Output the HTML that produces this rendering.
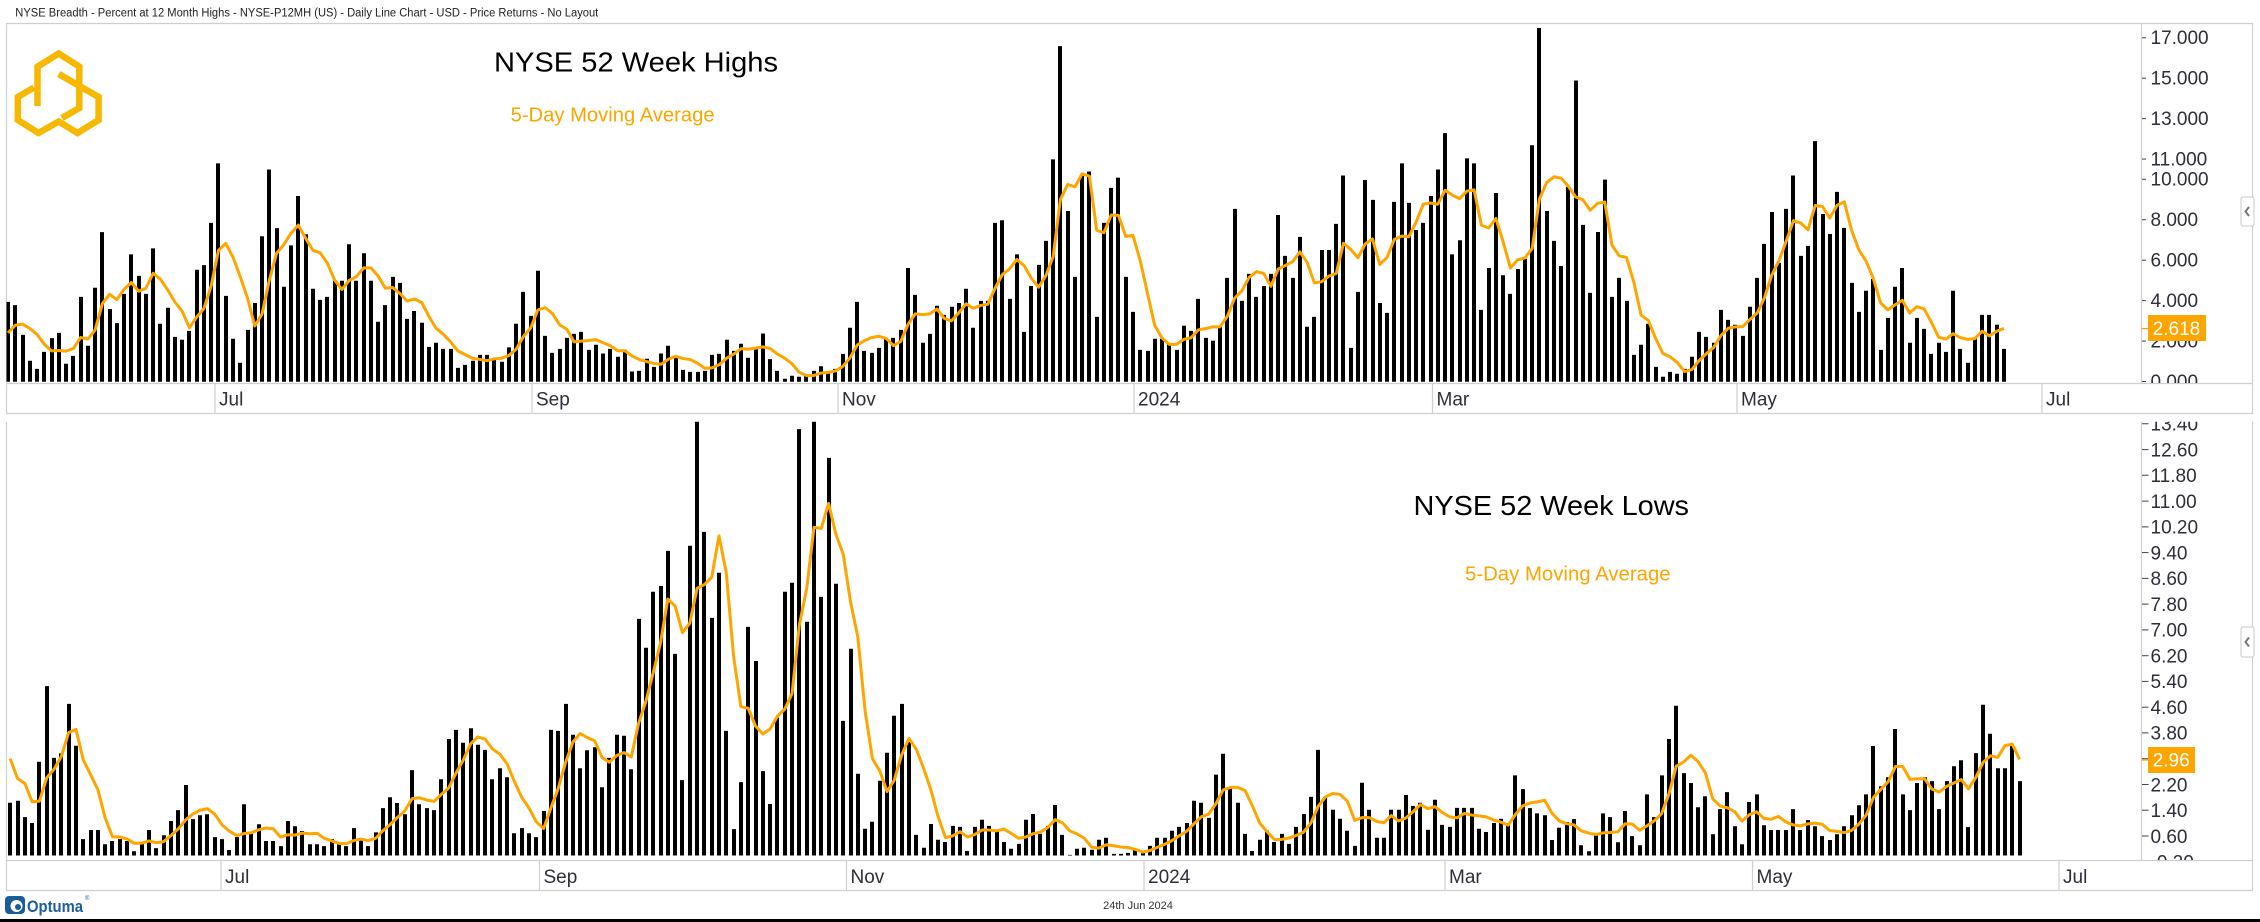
<!DOCTYPE html>
<html>
<head>
<meta charset="utf-8">
<style>
html,body{margin:0;padding:0;background:#fff;width:2260px;height:922px;overflow:hidden;}
svg{display:block;}
text{font-family:"Liberation Sans",Arial,sans-serif;}
</style>
</head>
<body>
<svg id="chart" width="2260" height="922" viewBox="0 0 2260 922" xmlns="http://www.w3.org/2000/svg">
<defs>
  <clipPath id="cTop"><rect x="6.5" y="23.5" width="2135" height="359.5"/></clipPath>
  <clipPath id="cBot"><rect x="6.5" y="421.7" width="2135" height="438.3"/></clipPath>
  <clipPath id="cTopAx"><rect x="2142" y="23.5" width="110" height="359.5"/></clipPath>
  <clipPath id="cBotAx"><rect x="2142" y="421.7" width="110" height="438.3"/></clipPath>
</defs>
<rect width="2260" height="922" fill="#fff"/>

<!-- header -->
<text x="15.3" y="16.3" font-size="11.5" fill="#222" textLength="583" lengthAdjust="spacingAndGlyphs">NYSE Breadth - Percent at 12 Month Highs - NYSE-P12MH (US) - Daily Line Chart - USD - Price Returns - No Layout</text>

<!-- top panel frame -->
<g stroke="#cfcfcf" stroke-width="1.2" fill="none">
  <line x1="6" y1="23.5" x2="2253" y2="23.5"/>
  <line x1="6.5" y1="23" x2="6.5" y2="414"/>
  <line x1="2252.5" y1="23" x2="2252.5" y2="414"/>
  <line x1="6" y1="383.5" x2="2253" y2="383.5"/>
  <line x1="6" y1="413.5" x2="2253" y2="413.5"/>
  <line x1="2141.5" y1="23.5" x2="2141.5" y2="383.5"/>
  <line x1="215" y1="383.5" x2="215" y2="413.5"/>
  <line x1="532" y1="383.5" x2="532" y2="413.5"/>
  <line x1="838" y1="383.5" x2="838" y2="413.5"/>
  <line x1="1134" y1="383.5" x2="1134" y2="413.5"/>
  <line x1="1432.5" y1="383.5" x2="1432.5" y2="413.5"/>
  <line x1="1737" y1="383.5" x2="1737" y2="413.5"/>
  <line x1="2042" y1="383.5" x2="2042" y2="413.5"/>
</g>
<g font-size="19" fill="#2e2e38">
  <text x="219" y="405.5">Jul</text>
  <text x="536" y="405.5">Sep</text>
  <text x="842" y="405.5">Nov</text>
  <text x="1138" y="405.5">2024</text>
  <text x="1436.5" y="405.5">Mar</text>
  <text x="1741" y="405.5">May</text>
  <text x="2046" y="405.5">Jul</text>
</g>

<!-- bottom panel frame -->
<g stroke="#cfcfcf" stroke-width="1.2" fill="none">
  <line x1="6.5" y1="421.7" x2="6.5" y2="891"/>
  <line x1="2252.5" y1="421.7" x2="2252.5" y2="891"/>
  <line x1="6" y1="860.5" x2="2253" y2="860.5"/>
  <line x1="6" y1="890.5" x2="2253" y2="890.5"/>
  <line x1="2141.5" y1="421.7" x2="2141.5" y2="860.5"/>
  <line x1="221" y1="860.5" x2="221" y2="890.5"/>
  <line x1="539.5" y1="860.5" x2="539.5" y2="890.5"/>
  <line x1="846.5" y1="860.5" x2="846.5" y2="890.5"/>
  <line x1="1144" y1="860.5" x2="1144" y2="890.5"/>
  <line x1="1445" y1="860.5" x2="1445" y2="890.5"/>
  <line x1="1752.5" y1="860.5" x2="1752.5" y2="890.5"/>
  <line x1="2059" y1="860.5" x2="2059" y2="890.5"/>
</g>
<g font-size="19" fill="#2e2e38">
  <text x="225" y="883">Jul</text>
  <text x="543.5" y="883">Sep</text>
  <text x="850.5" y="883">Nov</text>
  <text x="1148" y="883">2024</text>
  <text x="1449" y="883">Mar</text>
  <text x="1756.5" y="883">May</text>
  <text x="2063" y="883">Jul</text>
</g>

<!-- top y axis -->
<g clip-path="url(#cTopAx)">
  <g stroke="#444" stroke-width="1">
    <line x1="2142" y1="37.76" x2="2146" y2="37.76"/>
    <line x1="2142" y1="78.2" x2="2146" y2="78.2"/>
    <line x1="2142" y1="118.64" x2="2146" y2="118.64"/>
    <line x1="2142" y1="159.08" x2="2146" y2="159.08"/>
    <line x1="2142" y1="179.3" x2="2146" y2="179.3"/>
    <line x1="2142" y1="219.74" x2="2146" y2="219.74"/>
    <line x1="2142" y1="260.18" x2="2146" y2="260.18"/>
    <line x1="2142" y1="300.62" x2="2146" y2="300.62"/>
    <line x1="2142" y1="341.06" x2="2146" y2="341.06"/>
    <line x1="2142" y1="381.5" x2="2146" y2="381.5"/>
  </g>
  <g font-size="19" fill="#2e2e38">
    <text x="2150.5" y="44">17.000</text>
    <text x="2150.5" y="84.5">15.000</text>
    <text x="2150.5" y="124.9">13.000</text>
    <text x="2150.5" y="165.4">11.000</text>
    <text x="2150.5" y="185.6">10.000</text>
    <text x="2150.5" y="226">8.000</text>
    <text x="2150.5" y="266.5">6.000</text>
    <text x="2150.5" y="306.9">4.000</text>
    <text x="2150.5" y="347.4">2.000</text>
    <text x="2150.5" y="387.8">0.000</text>
  </g>
</g>
<line x1="2141.5" y1="328.6" x2="2148" y2="328.6" stroke="#FFA500" stroke-width="1.2"/>
<rect x="2148" y="315" width="58" height="26" fill="#FFA500"/>
<text x="2152.7" y="335" font-size="19" fill="#fff">2.618</text>

<!-- bottom y axis -->
<g clip-path="url(#cBotAx)">
  <g stroke="#444" stroke-width="1">
    <line x1="2142" y1="423.8" x2="2148.5" y2="423.8"/>
    <line x1="2142" y1="449.6" x2="2148.5" y2="449.6"/>
    <line x1="2142" y1="475.3" x2="2148.5" y2="475.3"/>
    <line x1="2142" y1="501.1" x2="2148.5" y2="501.1"/>
    <line x1="2142" y1="526.9" x2="2148.5" y2="526.9"/>
    <line x1="2142" y1="552.6" x2="2148.5" y2="552.6"/>
    <line x1="2142" y1="578.4" x2="2148.5" y2="578.4"/>
    <line x1="2142" y1="604.1" x2="2148.5" y2="604.1"/>
    <line x1="2142" y1="629.9" x2="2148.5" y2="629.9"/>
    <line x1="2142" y1="655.7" x2="2148.5" y2="655.7"/>
    <line x1="2142" y1="681.4" x2="2148.5" y2="681.4"/>
    <line x1="2142" y1="707.2" x2="2148.5" y2="707.2"/>
    <line x1="2142" y1="732.9" x2="2148.5" y2="732.9"/>
    <line x1="2142" y1="758.7" x2="2148.5" y2="758.7"/>
    <line x1="2142" y1="784.5" x2="2148.5" y2="784.5"/>
    <line x1="2142" y1="810.2" x2="2148.5" y2="810.2"/>
    <line x1="2142" y1="836" x2="2148.5" y2="836"/>
    <line x1="2142" y1="861.7" x2="2148.5" y2="861.7"/>
  </g>
  <g font-size="19" fill="#2e2e38">
    <text x="2150.5" y="430.6">13.40</text>
    <text x="2150.5" y="456.4">12.60</text>
    <text x="2150.5" y="482.1">11.80</text>
    <text x="2150.5" y="507.9">11.00</text>
    <text x="2150.5" y="533.7">10.20</text>
    <text x="2150.5" y="559.4">9.40</text>
    <text x="2150.5" y="585.2">8.60</text>
    <text x="2150.5" y="610.9">7.80</text>
    <text x="2150.5" y="636.7">7.00</text>
    <text x="2150.5" y="662.5">6.20</text>
    <text x="2150.5" y="688.2">5.40</text>
    <text x="2150.5" y="714">4.60</text>
    <text x="2150.5" y="739.7">3.80</text>
    <text x="2150.5" y="765.5">3.00</text>
    <text x="2150.5" y="791.3">2.20</text>
    <text x="2150.5" y="817">1.40</text>
    <text x="2150.5" y="842.8">0.60</text>
    <text x="2150.5" y="868.5">-0.20</text>
  </g>
</g>
<line x1="2141.5" y1="760" x2="2148" y2="760" stroke="#FFA500" stroke-width="1.2"/>
<rect x="2148" y="747" width="47" height="26" fill="#FFA500"/>
<text x="2152.7" y="766.7" font-size="19" fill="#fff">2.96</text>

<!-- chevron buttons -->
<rect x="2241" y="197" width="13" height="29" rx="2" fill="#fff" stroke="#c8c8c8" stroke-width="1"/>
<polyline points="2249,207 2245.5,211.5 2249,216" fill="none" stroke="#777" stroke-width="2"/>
<rect x="2241" y="627" width="13" height="30" rx="2" fill="#fff" stroke="#c8c8c8" stroke-width="1"/>
<polyline points="2249,637.5 2245.5,642 2249,646.5" fill="none" stroke="#777" stroke-width="2"/>

<!-- data layers -->
<g id="topData" clip-path="url(#cTop)"></g>
<g id="botData" clip-path="url(#cBot)"></g>

<!-- titles -->
<text x="494" y="71.7" font-size="28" fill="#000" textLength="284" lengthAdjust="spacingAndGlyphs">NYSE 52 Week Highs</text>
<text x="510.6" y="121.7" font-size="20" fill="#FFA500" textLength="204" lengthAdjust="spacingAndGlyphs">5-Day Moving Average</text>
<text x="1413.5" y="515" font-size="28" fill="#000" textLength="275.5" lengthAdjust="spacingAndGlyphs">NYSE 52 Week Lows</text>
<text x="1465" y="580.7" font-size="20" fill="#FFA500" textLength="205.6" lengthAdjust="spacingAndGlyphs">5-Day Moving Average</text>

<!-- logo -->
<g fill="none" stroke="#F6B800" stroke-width="6.5" stroke-linejoin="miter">
  <path d="M58.7,74 L98.6,97 L98.6,120 L77.5,133 L58.7,121.5 L38.5,133 L17.8,120 L17.8,97 L34,87.5"/>
  <path d="M37.5,106 L37.5,66.7 L58.7,53.5 L79.3,66.7 L79.3,108 L62,118"/>
</g>

<!-- footer -->
<rect x="5" y="896" width="20" height="18" rx="4" fill="#1a5b99"/>
<circle cx="16.5" cy="906" r="6" fill="#fff"/>
<circle cx="18" cy="907" r="3" fill="#1a5b99"/>
<text x="27" y="912" font-size="17" font-weight="bold" fill="#1d5e9c" textLength="56" lengthAdjust="spacingAndGlyphs">Optuma</text>
<text x="85" y="900" font-size="6" fill="#1d5e9c">®</text>
<text x="1138" y="909" font-size="11" fill="#333" text-anchor="middle">24th Jun 2024</text>
<rect x="0" y="919" width="2260" height="3" fill="#000"/>
</svg>

<script>
(function(){
var NS="http://www.w3.org/2000/svg";
var topV=[3.95,3.79,2.32,1.04,0.64,1.48,2.16,2.42,0.89,1.28,
4.2,1.78,4.65,7.4,3.6,2.9,4.35,6.3,5.24,4.35,
6.6,2.87,3.66,2.22,2.08,2.52,5.54,5.77,7.86,10.8,
4.25,2.13,0.94,2.57,3.9,7.2,10.5,7.6,4.7,6.75,
9.19,7.3,4.6,4.05,4.2,5.0,5.0,6.8,5.0,6.36,
5.0,2.97,3.79,5.19,4.89,3.11,3.5,2.92,1.73,1.93,
1.63,1.63,0.69,0.84,1.04,1.33,1.33,1.14,0.99,1.7,
2.87,4.45,3.26,5.49,2.27,1.43,1.63,2.17,2.37,2.47,
1.58,1.83,1.4,1.63,1.24,1.58,0.51,0.54,1.14,0.74,
1.4,1.78,1.24,0.59,0.49,0.49,0.54,1.33,1.38,2.08,
1.53,1.88,1.19,1.65,2.39,1.12,0.54,0.15,0.3,0.25,
0.3,0.54,0.77,0.44,0.64,1.38,2.67,3.95,1.53,1.43,
1.68,2.13,2.17,2.57,5.63,4.3,1.93,2.37,3.76,3.31,
3.71,3.9,4.6,2.67,4.0,4.0,7.86,7.99,4.1,6.3,
2.47,4.74,5.78,6.97,11.0,16.6,8.45,5.19,10.2,10.4,
3.21,7.86,9.59,10.1,5.19,3.46,1.58,1.53,2.13,2.13,
1.88,1.58,2.77,2.52,4.1,2.17,2.03,2.77,5.14,8.55,
4.0,5.34,4.2,4.74,5.34,8.25,6.23,5.14,7.17,2.72,
3.21,6.52,6.52,7.81,10.2,1.68,4.45,9.98,9.0,3.9,
3.41,8.9,10.8,8.85,7.51,7.86,9.19,10.5,12.3,6.3,
7.0,11.05,10.8,3.56,5.63,9.34,5.27,4.35,5.58,6.08,
11.7,17.5,8.45,6.97,5.73,9.64,14.9,7.76,4.4,7.41,
10.0,4.2,5.14,4.0,1.33,1.83,2.87,0.74,0.25,0.49,
0.4,0.64,1.24,2.47,2.22,1.93,3.56,3.06,2.82,2.27,
3.71,5.14,6.82,8.4,5.88,8.55,10.2,6.23,6.72,11.9,
8.3,7.31,9.39,7.61,4.89,3.46,4.5,5.09,1.58,3.16,
4.7,5.63,1.93,3.16,2.62,1.38,1.93,1.48,4.5,1.63,
0.94,2.13,3.31,3.31,2.82,1.63];
var botV=[1.64,1.70,1.19,1.01,2.91,5.26,3.03,3.17,4.71,3.41,
0.51,0.79,0.79,0.35,0.45,0.51,0.45,0.13,0.38,0.79,
0.23,0.63,1.07,1.41,2.19,1.13,1.25,1.28,0.57,0.51,
0.17,0.57,1.59,0.69,0.97,0.45,0.45,0.29,1.07,0.91,
0.76,0.35,0.35,0.29,0.51,0.38,0.29,0.85,0.51,0.29,
0.72,1.47,1.81,1.63,1.28,2.65,1.59,1.47,1.41,2.37,
3.62,3.90,3.50,3.95,3.44,3.28,2.37,2.71,2.43,0.69,
0.85,0.69,0.57,1.38,3.90,3.87,4.71,3.75,2.71,3.27,
3.36,2.12,3.03,3.75,3.72,2.68,7.35,6.45,8.19,8.37,
9.46,6.26,2.34,9.62,13.8,10.05,7.38,8.78,3.87,0.82,
2.28,7.10,6.04,2.62,1.60,4.28,8.19,8.47,13.24,7.26,
13.8,8.03,12.35,8.44,4.18,6.42,2.54,0.83,1.05,2.32,
3.19,4.34,4.71,3.62,0.64,0.24,0.98,0.49,0.42,0.92,
0.89,0.14,0.89,1.11,0.92,0.77,0.42,0.21,0.36,1.11,
1.29,0.67,0.92,1.57,0.64,0.02,0.21,0.24,0.18,0.49,
0.55,0.05,0.05,0.08,0.21,0.14,0.30,0.55,0.55,0.77,
0.89,1.01,1.70,1.64,1.17,2.51,3.16,2.10,1.64,0.67,
0.14,0.49,0.77,0.42,0.67,0.36,0.89,1.29,1.82,3.28,
1.82,1.42,1.14,0.77,0.30,2.26,1.42,0.55,0.55,1.42,
1.42,1.88,1.54,1.64,0.80,1.73,0.95,0.89,1.48,1.48,
1.48,0.83,0.73,1.01,1.14,1.00,2.49,2.06,1.47,1.31,
1.25,0.48,0.86,1.04,1.13,0.32,0.13,0.63,1.31,1.19,
0.41,1.38,0.60,0.32,1.90,1.19,2.49,3.62,4.65,2.56,
2.25,1.50,1.84,0.66,1.44,1.97,0.91,0.35,1.66,1.90,
0.94,0.79,0.79,0.79,1.44,0.79,1.10,0.91,0.60,0.48,
0.66,0.91,1.25,1.56,1.90,3.40,2.15,2.43,3.93,1.90,
1.41,2.25,2.43,2.31,1.44,2.31,2.77,2.96,0.88,3.18,
4.68,3.78,2.71,2.71,3.41,2.31];
function build(gid,vals,pre,x0,dx,y0,k){
  var g=document.getElementById(gid);
  var all=pre.concat(vals);
  var d="",pts=[];
  for(var i=0;i<vals.length;i++){
    var x=Math.round(x0+dx*i);
    var h=vals[i]*k;
    d+="M"+x+","+y0+"h4v"+(-h).toFixed(2)+"h-4z";
    var s=0;for(var j=i;j<i+5;j++)s+=all[j];
    var m=s/5;
    pts.push((x0+dx*i+2).toFixed(2)+","+(y0-m*k).toFixed(2));
  }
  var p=document.createElementNS(NS,"path");
  p.setAttribute("d",d);p.setAttribute("fill","#000");
  g.appendChild(p);
  var l=document.createElementNS(NS,"polyline");
  l.setAttribute("points",pts.join(" "));
  l.setAttribute("fill","none");l.setAttribute("stroke","#FFA500");
  l.setAttribute("stroke-width","3");l.setAttribute("stroke-linejoin","round");
  g.appendChild(l);
}
build("topData",topV,[1.89,2.07,2.09,2.1],6,7.258,381.8,20.22);
build("botData",botV,[4.8,1.94,3.86,2.81],8.2,7.307,855.5,32.2);
})();
</script>
</body>
</html>
